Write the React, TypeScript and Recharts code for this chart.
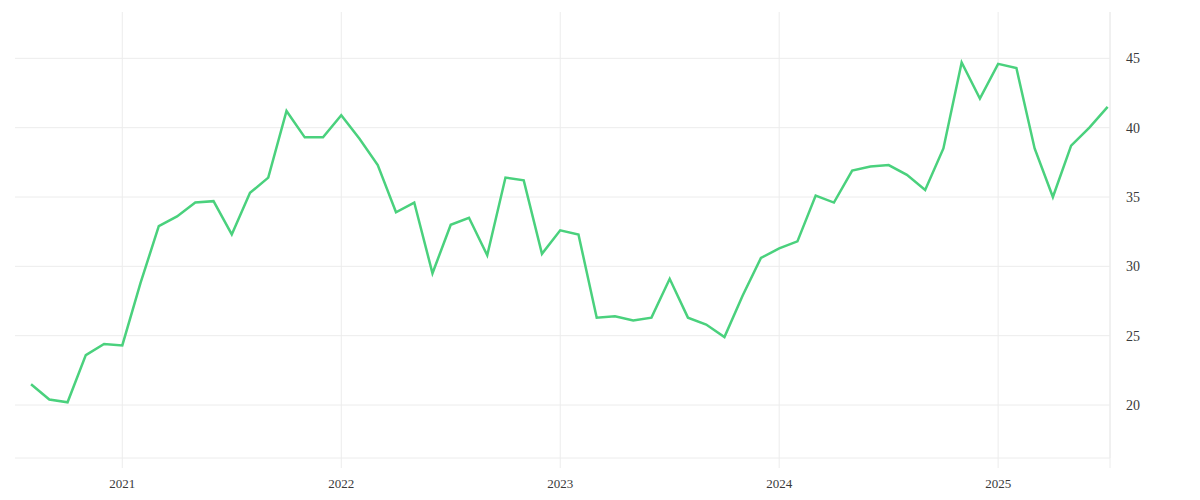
import { LineChart, Line, XAxis, YAxis, CartesianGrid } from 'recharts';

const months = [
  '2020-08', '2020-09', '2020-10', '2020-11', '2020-12',
  '2021-01', '2021-02', '2021-03', '2021-04', '2021-05', '2021-06',
  '2021-07', '2021-08', '2021-09', '2021-10', '2021-11', '2021-12',
  '2022-01', '2022-02', '2022-03', '2022-04', '2022-05', '2022-06',
  '2022-07', '2022-08', '2022-09', '2022-10', '2022-11', '2022-12',
  '2023-01', '2023-02', '2023-03', '2023-04', '2023-05', '2023-06',
  '2023-07', '2023-08', '2023-09', '2023-10', '2023-11', '2023-12',
  '2024-01', '2024-02', '2024-03', '2024-04', '2024-05', '2024-06',
  '2024-07', '2024-08', '2024-09', '2024-10', '2024-11', '2024-12',
  '2025-01', '2025-02', '2025-03', '2025-04', '2025-05', '2025-06',
  '2025-07',
];

const values = [
  21.5, 20.4, 20.2, 23.6, 24.4,
  24.3, 28.8, 32.9, 33.6, 34.6, 34.7, 32.3, 35.3, 36.4, 41.2, 39.3, 39.3,
  40.9, 39.2, 37.3, 33.9, 34.6, 29.5, 33.0, 33.5, 30.8, 36.4, 36.2, 30.9,
  32.6, 32.3, 26.3, 26.4, 26.1, 26.3, 29.1, 26.3, 25.8, 24.9, 27.9, 30.6,
  31.3, 31.8, 35.1, 34.6, 36.9, 37.2, 37.3, 36.6, 35.5, 38.5, 44.7, 42.1,
  44.6, 44.3, 38.5, 35.0, 38.7, 40.0, 41.5,
];

const yearLabels = ['2021', '2022', '2023', '2024', '2025'];
const yearMonths = ['2021-01', '2022-01', '2023-01', '2024-01', '2025-01'];
const yTicks = [20, 25, 30, 35, 40, 45];

const X_MIN = -0.88;
const X_MAX = 59.13;

const data = months.map((m, i) => ({ i, month: m, value: values[i] }));
const yearTicks = yearMonths.map((m) => months.indexOf(m));
const xTicks = [...yearTicks, X_MAX];

const GRID = '#ececec';
const TEXT = '#3a3a3a';
const FONT = '"Liberation Serif", serif';

export default function App() {
  return (
    <div style={{ width: 1184, height: 484, fontFamily: FONT }}>
      <LineChart width={1184} height={484} data={data} margin={{ top: 4, right: 0, bottom: 0, left: 7 }}>
        <CartesianGrid stroke={GRID} syncWithTicks />
        <XAxis
          type="number"
          dataKey="i"
          domain={[X_MIN, X_MAX]}
          ticks={xTicks}
          allowDataOverflow
          height={34}
          axisLine={{ stroke: GRID }}
          tickLine={{ stroke: GRID }}
          tickSize={10}
          tickMargin={11}
          tick={{ fontSize: 13, fill: TEXT, fontFamily: FONT }}
          tickFormatter={(v: number) => {
            const k = yearTicks.indexOf(v);
            return k >= 0 ? yearLabels[k] : '';
          }}
        />
        <YAxis
          orientation="right"
          type="number"
          domain={[16.18, 48.34]}
          ticks={yTicks}
          allowDataOverflow
          width={82}
          axisLine={{ stroke: GRID }}
          tickLine={false}
          tickSize={0}
          tickMargin={16}
          tick={{ fontSize: 14, fill: TEXT, fontFamily: FONT, textAnchor: 'start' }}
        />
        <Line
          type="linear"
          dataKey="value"
          stroke="#4ad17d"
          strokeWidth={2.5}
          dot={false}
          activeDot={false}
          isAnimationActive={false}
        />
      </LineChart>
    </div>
  );
}
